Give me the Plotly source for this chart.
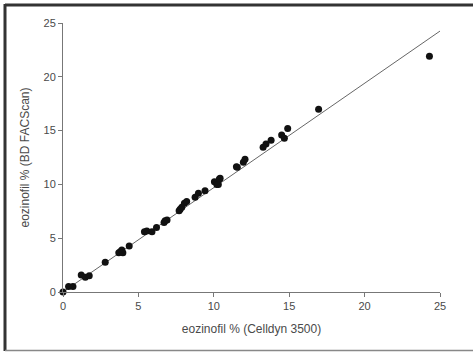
import plotly.graph_objects as go

celldyn = [0.0, 0.37, 0.66, 1.21, 1.48, 1.74, 2.8, 3.7, 3.8, 3.9, 3.97, 4.39,
           5.4, 5.56, 5.9, 6.2, 6.7, 6.77, 6.9, 7.7, 7.77, 7.88, 8.05, 8.2,
           8.76, 8.98, 9.42, 10.04, 10.2, 10.3, 10.37, 10.42, 11.5, 11.56,
           11.96, 12.07, 13.27, 13.46, 13.8, 14.5, 14.68, 14.9, 16.95, 24.3]
facscan = [0.0, 0.5, 0.5, 1.58, 1.36, 1.52, 2.76, 3.65, 3.75, 3.9, 3.65, 4.27,
           5.6, 5.67, 5.6, 6.0, 6.47, 6.63, 6.7, 7.56, 7.68, 7.87, 8.24, 8.4,
           8.8, 9.17, 9.42, 10.25, 10.0, 10.0, 10.5, 10.56, 11.65, 11.59,
           12.05, 12.33, 13.45, 13.75, 14.1, 14.6, 14.28, 15.2, 16.98, 21.9]
fit_x = [0, 25]
fit_y = [0.0, 24.25]

x_ticks = [0, 5, 10, 15, 20, 25]
y_ticks = [0, 5, 10, 15, 20, 25]

W, H = 473, 352
L, R, T, B = 63, 33, 23, 60

fig = go.Figure()
fig.add_trace(go.Scatter(x=fit_x, y=fit_y, mode="lines",
                         line=dict(color="#666666", width=1),
                         showlegend=False, hoverinfo="skip"))
fig.add_trace(go.Scatter(x=celldyn, y=facscan, mode="markers",
                         marker=dict(color="#111111", size=7),
                         cliponaxis=False, showlegend=False))

pw = W - L - R
ph = H - T - B
def px(v):
    return (v - L) / pw
def py(v):
    return (H - B - v) / ph

# outer frame (dark left/top, lighter bottom; right edge runs off the page)
fig.add_shape(type="line", xref="paper", yref="paper",
              x0=px(5), x1=px(490), y0=py(5), y1=py(5),
              line=dict(color="#333333", width=3))
fig.add_shape(type="line", xref="paper", yref="paper",
              x0=px(5), x1=px(5), y0=py(4), y1=py(351),
              line=dict(color="#333333", width=3))
fig.add_shape(type="line", xref="paper", yref="paper",
              x0=px(5), x1=px(490), y0=py(350.5), y1=py(350.5),
              line=dict(color="#888888", width=1.5))

axis_common = dict(showgrid=False, zeroline=False, showline=True,
                   linecolor="#777777", linewidth=1, ticks="outside",
                   ticklen=4, tickcolor="#777777",
                   tickfont=dict(family="Liberation Sans, Arial", size=11, color="#4a4a4a"))

fig.update_layout(
    width=W, height=H,
    margin=dict(l=L, r=R, t=T, b=B),
    paper_bgcolor="white", plot_bgcolor="white",
    xaxis=dict(range=[0, 25], tickvals=x_ticks,
               title=dict(text="eozinofil % (Celldyn 3500)", standoff=13,
                          font=dict(family="Liberation Sans, Arial", size=12, color="#4a4a4a")),
               **axis_common),
    yaxis=dict(range=[0, 25], tickvals=y_ticks,
               title=dict(text="eozinofil % (BD FACScan)", standoff=11,
                          font=dict(family="Liberation Sans, Arial", size=12, color="#4a4a4a")),
               **axis_common),
)
fig.write_html("out.html", config={"displayModeBar": False},
               post_script="document.body.style.margin='0px';document.body.style.overflow='hidden';")
